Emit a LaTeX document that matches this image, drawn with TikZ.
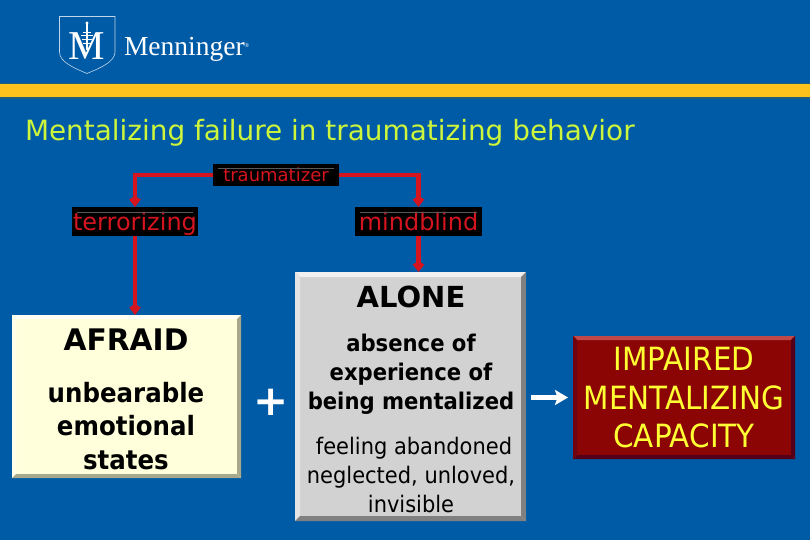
\documentclass[tikz,border=0pt]{standalone}
\usepackage{fontspec}
\setmainfont{DejaVu Sans}
\newfontfamily\logofont{Liberation Serif}
\newfontfamily\narrowfont[FakeStretch=0.92]{DejaVu Sans}
\usetikzlibrary{arrows.meta}
\definecolor{bgblue}{HTML}{005BA6}
\definecolor{barteal}{HTML}{1F5F7A}
\definecolor{baryellow}{HTML}{FDC31C}
\definecolor{titlegreen}{HTML}{CCF53C}
\definecolor{linered}{HTML}{D4141E}
\definecolor{cream}{HTML}{FFFFDC}
\definecolor{creamhi}{HTML}{FFFFF4}
\definecolor{creamlo}{HTML}{A8A88C}
\definecolor{panelgray}{HTML}{D2D2D2}
\definecolor{panelhi}{HTML}{F0F0F0}
\definecolor{panello}{HTML}{808080}
\definecolor{maroon}{HTML}{8B0505}
\definecolor{maroonhi}{HTML}{C04848}
\definecolor{maroonlo}{HTML}{550018}
\definecolor{capyellow}{HTML}{FFFF33}
\tikzset{
  x=1pt,y=-1pt,
  every node/.style={inner sep=0pt,outer sep=0pt},
  tag/.style={fill=black,anchor=north west},
  tagtext/.style={text=linered,anchor=base,font=\fontsize{#1}{#1}\selectfont},
  tagline/.style={draw=gray!70!black,line width=1pt},
  conn/.style={draw=linered,line width=4.3pt,-{Kite[length=11pt,width=11.5pt,inset=3.5pt]}},
  panel/.style={anchor=north west},
  bold/.style={font=\fontsize{#1}{#1}\selectfont\bfseries,text=black,align=center},
  body/.style n args={2}{font=\narrowfont\fontsize{#1}{#2}\selectfont,text=black,align=center},
  boldbody/.style n args={2}{font=\narrowfont\fontsize{#1}{#2}\selectfont\bfseries,text=black,align=center},
  logoline/.style={draw=white!75!bgblue,line width=0.6pt},
}
\begin{document}
\begin{tikzpicture}
\useasboundingbox (0,0) rectangle (810,540);
\fill[bgblue] (0,0) rectangle (810,540);
% yellow bar
\fill[barteal] (0,83) rectangle (810,99);
\fill[baryellow] (0,84.5) rectangle (810,97);
% logo
\draw[logoline] (59.5,16.5) -- (115,16.5) -- (115,52) .. controls (115,62) and (100,68) .. (87,73.5) .. controls (74,68) and (59.5,62) .. (59.5,52) -- cycle;
\node[text=white,font=\logofont\fontsize{41}{41}\selectfont] (logoM) at (87,46) {M};
\draw[white,line width=1.1pt] (87,24) -- (87,50);
\draw[white,line width=0.9pt] (83,32) -- (91,32) (81,35) -- (93,35) (82,39) -- (92,39) (83,43) -- (91,43);
\fill[white] (87,23) circle (1.6pt);
\node[text=white,font=\logofont\fontsize{27.5}{27.5}\selectfont,anchor=base west] (logoword) at (124,56) {Menninger\raisebox{8pt}{\fontsize{6}{6}\selectfont ®}};
% title
\node[text=titlegreen,font=\fontsize{27.9}{27.9}\selectfont,anchor=base west] (title) at (25,141) {Mentalizing failure in traumatizing behavior};
% tags
\node[tag,minimum width=126,minimum height=22] (traum) at (213,164) {};
\node[tagtext=18] (traumtxt) at (276,182) {traumatizer};
\node[tag,minimum width=126,minimum height=29] (terr) at (72,207) {};
\node[tagtext=24] (terrtxt) at (135,230.5) {terrorizing};
\node[tag,minimum width=127,minimum height=29] (mind) at (355,207) {};
\node[tagtext=24] (mindtxt) at (418.5,230.5) {mindblind};
\draw[tagline] (218,169) -- (334,169);
\draw[tagline] (77,212) -- (193,212);
\draw[tagline] (360,212) -- (477,212);
% boxes
\node[panel,fill=cream,minimum width=229,minimum height=163] (afraid) at (12,315) {};
\fill[creamhi] (12,315) -- (241,315) -- (237,319) -- (16,319) -- cycle;
\fill[creamhi!60!cream] (12,315) -- (16,319) -- (16,474) -- (12,478) -- cycle;
\fill[creamlo] (241,315) -- (241,478) -- (237,474) -- (237,319) -- cycle;
\fill[creamlo] (12,478) -- (241,478) -- (237,474) -- (16,474) -- cycle;
\node[panel,fill=panelgray,minimum width=231,minimum height=249] (alone) at (295,272) {};
\fill[panelhi] (295,272) -- (526,272) -- (521,277) -- (300,277) -- cycle;
\fill[panelhi!60!panelgray] (295,272) -- (300,277) -- (300,516) -- (295,521) -- cycle;
\fill[panello] (526,272) -- (526,521) -- (521,516) -- (521,277) -- cycle;
\fill[panello] (295,521) -- (526,521) -- (521,516) -- (300,516) -- cycle;
\node[panel,fill=maroon,minimum width=222,minimum height=123] (impaired) at (573,336) {};
\fill[maroonhi] (573,336) -- (795,336) -- (791,340) -- (577,340) -- cycle;
\fill[maroonlo] (795,336) -- (795,459) -- (791,455) -- (791,340) -- cycle;
\fill[maroonlo] (573,459) -- (795,459) -- (791,455) -- (577,455) -- cycle;
\fill[maroonlo!50!maroon] (573,336) -- (577,340) -- (577,455) -- (573,459) -- cycle;
% connectors
\draw[conn] (traum.west) -| (terr.north);
\draw[conn] (traum.east) -| (mind.north);
\draw[conn] (terr.south) -- (terr.south |- afraid.north);
\draw[conn] (mind.south) -- (mind.south |- alone.north);
% box text
\node[bold=29.7] (afraidhead) at (126,340) {AFRAID};
\node[boldbody={26.6}{33.5}] (afraidbody) at (126,426) {unbearable\\emotional\\states};
\node[bold=29] (alonehead) at (411,297) {ALONE};
\node[boldbody={23}{29}] (alonebold) at (411,374) {absence of\\experience of\\being mentalized};
\node[body={22.8}{29}] (alonereg) at (411,475) {\hspace*{6pt}feeling abandoned\\neglected, unloved,\\invisible};
\node[text=capyellow,align=center,font=\narrowfont\fontsize{32}{38.5}\selectfont] (impairedtxt) at (684,398) {IMPAIRED\\MENTALIZING\\CAPACITY};
% plus and arrow
\node[text=white,font=\fontsize{42}{42}\selectfont\bfseries] (plus) at (271,402) {+};
\coordinate (arrowstart) at (531,397.5);
\draw[white,line width=5.5pt,-{Stealth[length=13pt,width=15pt,inset=2.5pt]}] (arrowstart) -- ([xshift=-5pt]impaired.west |- arrowstart);
\end{tikzpicture}
\end{document}
